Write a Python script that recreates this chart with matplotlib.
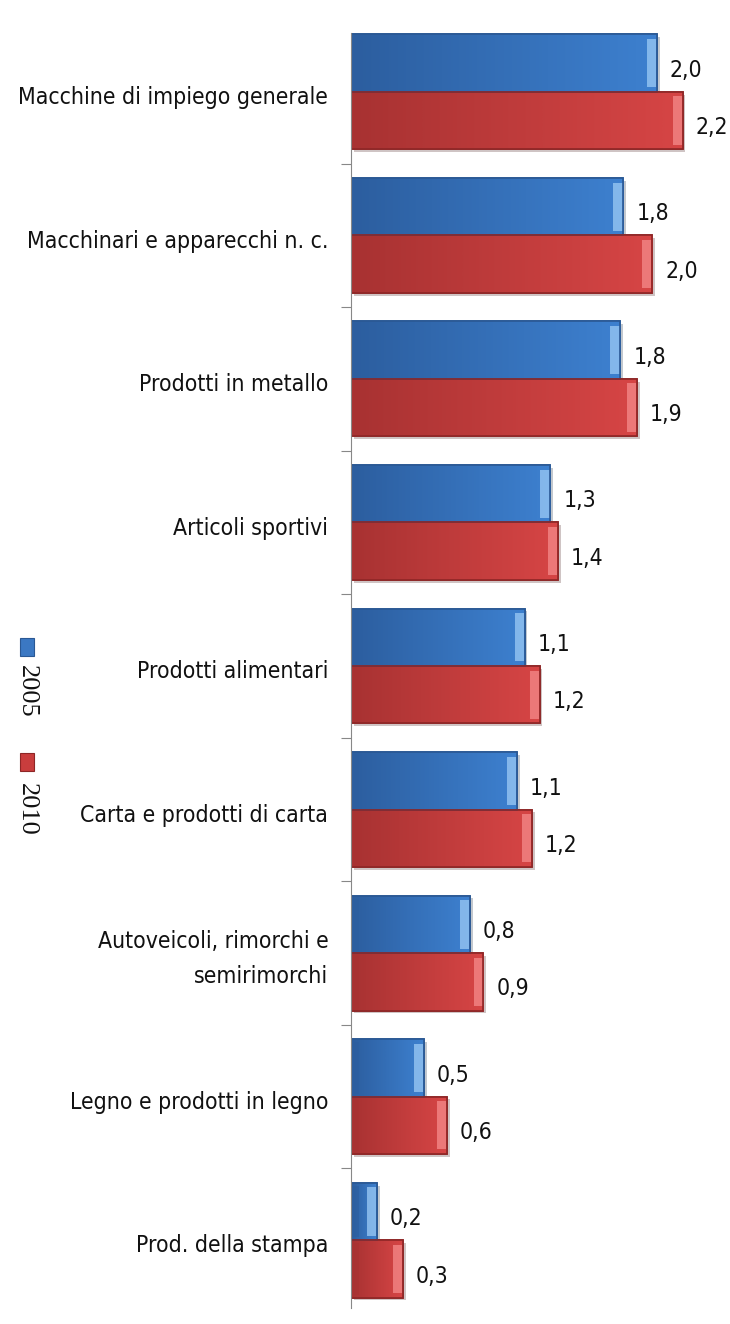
import matplotlib.pyplot as plt
import matplotlib.patheffects as pe
from matplotlib.patches import Rectangle
from matplotlib.colors import LinearSegmentedColormap
import numpy as np

categories = ["Macchine di impiego generale", "Macchinari e apparecchi n. c.",
              "Prodotti in metallo", "Articoli sportivi", "Prodotti alimentari",
              "Carta e prodotti di carta", "Autoveicoli, rimorchi e\nsemirimorchi",
              "Legno e prodotti in legno", "Prod. della stampa"]
v2005 = [2.01, 1.79, 1.77, 1.31, 1.14, 1.09, 0.78, 0.48, 0.17]
v2010 = [2.18, 1.98, 1.88, 1.36, 1.24, 1.19, 0.87, 0.63, 0.34]
series = ["2005", "2010"]

fnt = dict(family="DejaVu Sans", fontstretch="condensed", fontsize=16.5, color="#111111")

fig = plt.figure(figsize=(7.3, 13.24), dpi=100)
# plot area: from y=20 to y=1312 px, axis line at x=351
ax = fig.add_axes([0.481, 1 - 1312 / 1324, 0.50, 1292 / 1324])

n = len(categories)
y = np.arange(n)
h = 0.4
# main, edge, light, dark-left
styles = [("#3d80cf", "#2a5894", "#9ccaf5", "#2c5e9f"),
          ("#d64545", "#8e2626", "#f58a8a", "#a83232")]

for k, vals in enumerate([v2005, v2010]):
    main, edge, light, dark = styles[k]
    cmap = LinearSegmentedColormap.from_list("g%d" % k, [dark, main])
    pos = y - h / 2 + k * h
    bars = ax.barh(pos, vals, height=h, color=main, edgecolor=edge, linewidth=1.2, zorder=2)
    for b, v, p in zip(bars, vals, pos):
        b.set_path_effects([pe.SimplePatchShadow(offset=(2, -2), alpha=0.25), pe.Normal()])
        im = ax.imshow(np.linspace(0, 1, 64).reshape(1, -1), cmap=cmap, aspect="auto",
                       extent=[0, v, p + h / 2, p - h / 2], zorder=2.2, interpolation="bicubic")
        im.set_clip_path(b)
    # bevel: darker left end, lighter right end
    ax.barh(pos, [0.05] * n, left=0, height=h * 0.9, color=dark, alpha=0.6, linewidth=0, zorder=3)
    ax.barh(pos, [0.06] * n, left=np.array(vals) - 0.065, height=h * 0.84, color=light,
            alpha=0.75, linewidth=0, zorder=3)
    ax.barh(pos, vals, height=h, color="none", edgecolor=edge, linewidth=1.2, zorder=3.5)
    for yy, v in zip(pos, vals):
        ax.text(v + 0.085, yy + 0.05, f"{v:.1f}".replace(".", ","), va="center", ha="left", **fnt)

ax.set_ylim(n - 0.5, -0.5)
ax.set_xlim(0, 2.4)
ax.set_yticks(np.arange(1, n) - 0.5)
ax.set_yticklabels([])
ax.tick_params(axis="y", length=7, color="#888888", direction="out")
ax.set_xticks([])
for s in ["top", "right", "bottom"]:
    ax.spines[s].set_visible(False)
ax.spines["left"].set_color("#888888")
ax.spines["left"].set_bounds(-0.41, n - 0.53)
ax.spines["left"].set_zorder(5)

for i, c in enumerate(categories):
    ax.text(-0.15, i + 0.04, c, ha="right", va="center", linespacing=1.7, **fnt)

# rotated legend on the left
leg = [(0.5045, 0.4977, "#3b78c3", "#2a5894"), (0.4177, 0.4086, "#c93d3d", "#8e2626")]
for (my, ty, col, ed), lab in zip(leg, series):
    fig.patches.append(Rectangle((0.037 - 0.0095, my), 0.019, 0.0136, transform=fig.transFigure,
                                 facecolor=col, edgecolor=ed, linewidth=0.8))
    fig.text(0.037, ty, lab, rotation=270, ha="center", va="top", fontsize=19,
             family=["Liberation Serif", "DejaVu Serif"], color="#111111")

fig.savefig("out.png", dpi=100)
